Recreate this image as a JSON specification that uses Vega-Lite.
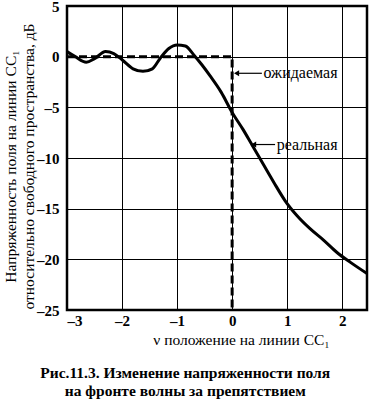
{
  "$schema": "https://vega.github.io/schema/vega-lite/v6.json",
  "width": 300,
  "height": 304,
  "autosize": {"type": "none"},
  "padding": {"left": 67, "top": 6, "right": 12, "bottom": 99},
  "background": "white",
  "config": {
    "font": "Liberation Serif, DejaVu Serif, serif",
    "view": {"stroke": "black", "strokeWidth": 2.5},
    "axis": {
      "grid": true, "gridColor": "black", "gridOpacity": 1, "gridWidth": 1,
      "domain": false, "ticks": false,
      "labelFont": "Liberation Serif, DejaVu Serif, serif", "labelFontSize": 15, "labelFontWeight": "bold", "labelColor": "black",
      "titleFont": "Liberation Serif, DejaVu Serif, serif", "titleFontSize": 15.5, "titleFontWeight": "normal", "titleColor": "black"
    }
  },
  "title": {
    "text": ["Рис.11.3. Изменение напряженности поля", "на фронте волны за препятствием"],
    "orient": "bottom", "anchor": "middle", "frame": "bounds",
    "font": "Liberation Serif, DejaVu Serif, serif", "fontSize": 15.5, "fontWeight": "bold", "color": "black",
    "lineHeight": 18, "offset": 18
  },
  "datasets": {
    "real": [
      {"x": -3.0, "y": 0.5}, {"x": -2.85, "y": 0.0}, {"x": -2.65, "y": -0.55}, {"x": -2.5, "y": -0.2},
      {"x": -2.3, "y": 0.5}, {"x": -2.15, "y": 0.3}, {"x": -2.0, "y": -0.3}, {"x": -1.8, "y": -1.2},
      {"x": -1.62, "y": -1.45}, {"x": -1.45, "y": -1.2}, {"x": -1.3, "y": -0.1}, {"x": -1.15, "y": 0.8},
      {"x": -1.0, "y": 1.15}, {"x": -0.85, "y": 1.05}, {"x": -0.7, "y": 0.2}, {"x": -0.55, "y": -0.8},
      {"x": -0.4, "y": -1.9}, {"x": -0.2, "y": -3.5}, {"x": 0.0, "y": -5.5}, {"x": 0.2, "y": -7.2},
      {"x": 0.35, "y": -8.6}, {"x": 0.5, "y": -10.0}, {"x": 0.65, "y": -11.4}, {"x": 0.8, "y": -12.8},
      {"x": 0.96, "y": -14.2}, {"x": 1.18, "y": -15.7}, {"x": 1.42, "y": -17.0}, {"x": 1.66, "y": -18.1},
      {"x": 1.9, "y": -19.3}, {"x": 2.15, "y": -20.3}, {"x": 2.45, "y": -21.4}
    ],
    "expected": [
      {"x": -3.0, "y": 0}, {"x": 0.0, "y": 0}, {"x": 0.0, "y": -25}
    ],
    "labels": [
      {"x": 0.08, "x2": 0.54, "y": -1.64, "tx": 0.57, "text": "ожидаемая"},
      {"x": 0.39, "x2": 0.78, "y": -8.67, "tx": 0.81, "text": "реальная"}
    ]
  },
  "layer": [
    {
      "data": {"name": "real"},
      "mark": {"type": "line", "color": "black", "strokeWidth": 3, "interpolate": "monotone", "clip": true},
      "encoding": {
        "x": {"field": "x", "type": "quantitative",
              "scale": {"domain": [-3, 2.45], "nice": false, "zero": false},
              "axis": {"values": [-3, -2, -1, 0, 1, 2], "format": "d", "labelPadding": 3,
                       "labelExpr": "replace(datum.label, '−', '–')",
                       "title": "ν положение на линии CC₁", "titlePadding": 4, "titleX": 174, "titleAnchor": "middle"}},
        "y": {"field": "y", "type": "quantitative",
              "scale": {"domain": [-25, 5], "nice": false, "zero": false},
              "axis": {"values": [-25, -20, -15, -10, -5, 0, 5], "format": "d", "labelPadding": 8,
                       "labelExpr": "replace(datum.label, '−', '–')",
                       "title": ["Напряженность поля на линии CC₁", "относительно свободного пространства, дБ"],
                       "titleLineHeight": 18, "titlePadding": 0, "titleY": 160}}
      }
    },
    {
      "data": {"name": "expected"},
      "mark": {"type": "line", "color": "black", "strokeWidth": 3, "strokeDash": [8, 4]},
      "encoding": {
        "x": {"field": "x", "type": "quantitative"},
        "y": {"field": "y", "type": "quantitative"},
        "order": {"value": 0}
      }
    },
    {
      "data": {"name": "labels"},
      "mark": {"type": "rule", "color": "black", "strokeWidth": 1.2},
      "encoding": {
        "x": {"field": "x", "type": "quantitative"},
        "x2": {"field": "x2"},
        "y": {"field": "y", "type": "quantitative"}
      }
    },
    {
      "data": {"name": "labels"},
      "mark": {"type": "point", "shape": "triangle-left", "filled": true, "color": "black", "opacity": 1, "size": 35},
      "encoding": {
        "x": {"field": "x", "type": "quantitative"},
        "y": {"field": "y", "type": "quantitative"}
      }
    },
    {
      "data": {"name": "labels"},
      "mark": {"type": "text", "align": "left", "baseline": "middle", "font": "Liberation Serif, DejaVu Serif, serif", "fontSize": 16, "color": "black"},
      "encoding": {
        "x": {"field": "tx", "type": "quantitative"},
        "y": {"field": "y", "type": "quantitative"},
        "text": {"field": "text"}
      }
    }
  ]
}
